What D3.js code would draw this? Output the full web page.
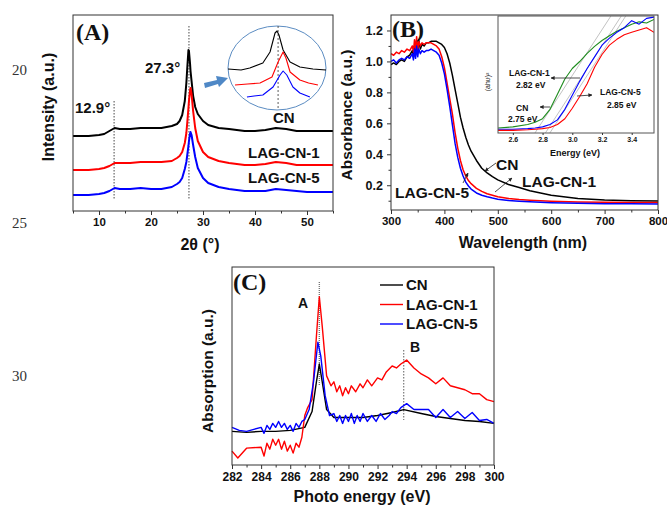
<!DOCTYPE html>
<html>
<head>
<meta charset="utf-8">
<script src="https://cdn.jsdelivr.net/npm/d3@7"></script>
<style>
  body { margin: 0; background: #fff; }
  svg text { font-family: "Liberation Sans", Arial, sans-serif; font-weight: bold; fill: #111; }
  svg text.serif { font-family: "Liberation Serif", "Times New Roman", serif; }
  .frame { fill: none; stroke: #333; stroke-width: 1; }
  .axis path { display: none; }
  .axis line { stroke: #333; }
</style>
</head>
<body>
<svg id="fig" width="667" height="508"></svg>
<script>
// ---- (A) XRD ----
const xrdAngle = [5, 8, 10, 11, 12, 13, 14, 16, 18, 20, 22, 24, 25, 25.5, 26, 26.5, 26.8, 27, 27.2, 27.3, 27.5, 27.6, 27.8, 28.1, 28.5, 29, 30, 31, 33, 35, 38, 40, 42, 44, 46, 48, 50, 52, 55];
const xrdCN   = [75, 75, 76, 77, 80, 83, 82, 82, 83, 83, 83, 85, 87, 90, 96, 110, 128, 145, 161, 160, 148, 140, 130, 115, 104, 97, 90, 86, 83, 82, 80, 80, 81, 83, 82, 80, 80, 80, 80];
const xrdLag1 = [41, 41, 42, 43, 45, 48, 48, 48, 49, 49, 49, 50, 53, 55, 59, 68, 78, 90, 103, 110, 120, 123, 117, 100, 83, 70, 59, 54, 50, 48, 46, 46, 47, 49, 48, 46, 46, 46, 46];
const xrdLag5 = [16, 16, 17, 18, 20, 23, 22, 22, 23, 22, 22, 24, 27, 29, 33, 42, 49, 57, 65, 70, 77, 79, 76, 66, 54, 43, 33, 28, 24, 22, 20, 20, 20, 22, 21, 20, 19, 19, 19];
const xrdTicks = [10, 20, 30, 40, 50];
const xrdMarks = [12.9, 27.3];

// zoomed peak shown in the circle
const zoomAngleCN = [25.0, 25.6, 26.0, 26.6, 26.93, 27.16, 27.25, 27.34, 27.53, 27.85, 28.3, 28.9, 29.5];
const zoomCN      = [41, 40, 42, 47, 58, 77, 79, 75, 60, 48, 43, 41, 40];
const zoomAngle1  = [25.32, 25.9, 26.47, 27.02, 27.3, 27.53, 27.66, 27.85, 28.3, 28.7, 29.13];
const zoomLag1    = [25, 26, 27, 33, 48, 58, 52, 38, 30, 27, 25];
const zoomAngle5  = [25.87, 26.2, 26.6, 27.07, 27.39, 27.53, 27.7, 27.98, 28.3, 28.76];
const zoomLag5    = [13, 14, 15, 23, 35, 39, 35, 23, 17, 13];

// ---- (B) UV-vis ----
const uvWave = [300, 305, 310, 315, 320, 325, 330, 335, 340, 342, 344, 346, 348, 350, 352, 355, 358, 362, 366, 370, 375, 380, 385, 390, 395, 400, 405, 410, 415, 420, 425, 430, 435, 440, 445, 450, 460, 470, 480, 490, 500, 520, 540, 560, 580, 600, 650, 700, 750, 800];
const uvCN   = [0.98, 0.99, 0.98, 1.00, 1.01, 1.00, 1.03, 1.04, 1.07, 1.03, 1.10, 1.04, 1.12, 1.06, 1.14, 1.08, 1.11, 1.10, 1.12, 1.12, 1.13, 1.13, 1.13, 1.12, 1.11, 1.09, 1.05, 0.99, 0.91, 0.82, 0.73, 0.64, 0.57, 0.51, 0.46, 0.42, 0.36, 0.31, 0.28, 0.255, 0.235, 0.205, 0.185, 0.165, 0.15, 0.135, 0.115, 0.105, 0.10, 0.098];
const uvLag1 = [1.05, 1.04, 1.06, 1.05, 1.07, 1.06, 1.08, 1.07, 1.10, 1.06, 1.14, 1.08, 1.16, 1.07, 1.13, 1.10, 1.12, 1.11, 1.12, 1.12, 1.12, 1.11, 1.10, 1.08, 1.03, 0.96, 0.86, 0.76, 0.66, 0.54, 0.44, 0.36, 0.30, 0.26, 0.23, 0.21, 0.18, 0.16, 0.145, 0.135, 0.125, 0.115, 0.108, 0.103, 0.099, 0.096, 0.092, 0.09, 0.088, 0.088];
const uvLag5 = [1.00, 1.01, 0.99, 1.01, 1.02, 1.01, 1.03, 1.02, 1.05, 1.01, 1.08, 1.02, 1.10, 1.03, 1.08, 1.05, 1.07, 1.06, 1.07, 1.07, 1.08, 1.07, 1.06, 1.04, 0.99, 0.92, 0.82, 0.71, 0.59, 0.47, 0.38, 0.31, 0.26, 0.22, 0.195, 0.175, 0.15, 0.135, 0.125, 0.117, 0.11, 0.102, 0.097, 0.093, 0.09, 0.087, 0.083, 0.081, 0.08, 0.079];
const uvXTicks = [300, 400, 500, 600, 700, 800];
const uvYTicks = [0.2, 0.4, 0.6, 0.8, 1.0, 1.2];

// Tauc plot inset
const taucEnergy = [2.5, 2.6, 2.7, 2.75, 2.8, 2.85, 2.9, 2.95, 3.0, 3.05, 3.1, 3.15, 3.2, 3.25, 3.3, 3.35, 3.4, 3.45, 3.5, 3.55];
const taucCN   = [0.04, 0.05, 0.07, 0.09, 0.12, 0.20, 0.33, 0.46, 0.55, 0.61, 0.68, 0.74, 0.79, 0.83, 0.87, 0.90, 0.93, 0.95, 0.94, 0.97];
const taucLag5 = [0.03, 0.03, 0.035, 0.04, 0.05, 0.07, 0.11, 0.20, 0.32, 0.44, 0.55, 0.65, 0.75, 0.81, 0.86, 0.90, 0.96, 0.93, 0.98, 0.99];
const taucLag1 = [0.02, 0.02, 0.025, 0.03, 0.035, 0.045, 0.07, 0.12, 0.21, 0.31, 0.42, 0.56, 0.67, 0.75, 0.80, 0.84, 0.86, 0.88, 0.90, 0.86];
const taucGaps = [2.75, 2.82, 2.85];
const taucTicks = [2.6, 2.8, 3.0, 3.2, 3.4];

// ---- (C) XAS ----
const xasEnergyCN = [282, 283, 284, 285, 286, 287, 287.5, 287.8, 288, 288.2, 288.5, 289, 290, 291, 292, 293, 293.8, 295, 296, 297, 298, 299, 300];
const xasCN       = [0.17, 0.165, 0.17, 0.17, 0.175, 0.19, 0.27, 0.42, 0.51, 0.42, 0.28, 0.24, 0.24, 0.24, 0.25, 0.265, 0.28, 0.26, 0.245, 0.235, 0.225, 0.22, 0.21];
const xasEnergy1  = [282, 282.4, 283, 284, 284.2, 284.4, 284.6, 284.8, 285, 285.2, 285.4, 285.6, 285.8, 286, 286.2, 286.4, 286.6, 286.8, 287, 287.2, 287.5, 287.8, 288, 288.2, 288.5, 288.8, 289, 289.2, 289.4, 289.6, 289.8, 290, 290.2, 290.5, 290.8, 291, 291.3, 291.6, 292, 292.3, 292.6, 293, 293.3, 293.6, 294, 294.5, 295, 295.5, 296, 296.5, 297, 297.5, 298, 298.5, 299, 299.5, 300];
const xasLag1     = [0.07, 0.035, 0.085, 0.09, 0.045, 0.11, 0.08, 0.13, 0.10, 0.13, 0.08, 0.12, 0.07, 0.10, 0.06, 0.11, 0.09, 0.14, 0.25, 0.29, 0.33, 0.65, 0.85, 0.70, 0.45, 0.40, 0.42, 0.37, 0.40, 0.35, 0.39, 0.36, 0.40, 0.37, 0.41, 0.39, 0.43, 0.40, 0.44, 0.43, 0.47, 0.50, 0.49, 0.51, 0.53, 0.49, 0.46, 0.44, 0.41, 0.44, 0.40, 0.39, 0.38, 0.36, 0.36, 0.33, 0.32];
const xasEnergy5  = [282, 282.5, 283, 283.5, 284, 284.2, 284.4, 284.6, 284.8, 285, 285.2, 285.4, 285.6, 285.8, 286, 286.2, 286.4, 286.6, 286.8, 287, 287.3, 287.6, 287.9, 288.1, 288.4, 288.7, 289, 289.2, 289.4, 289.6, 289.8, 290, 290.2, 290.4, 290.6, 290.8, 291, 291.3, 291.6, 291.9, 292.2, 292.5, 292.8, 293, 293.3, 293.6, 294, 294.5, 295.5, 296, 296.5, 297, 297.5, 298, 298.5, 299, 299.5, 300];
const xasLag5     = [0.19, 0.175, 0.17, 0.18, 0.19, 0.16, 0.20, 0.18, 0.21, 0.19, 0.22, 0.19, 0.21, 0.18, 0.20, 0.17, 0.21, 0.19, 0.22, 0.23, 0.28, 0.42, 0.62, 0.55, 0.35, 0.25, 0.26, 0.22, 0.25, 0.21, 0.25, 0.22, 0.26, 0.21, 0.25, 0.22, 0.26, 0.22, 0.25, 0.22, 0.26, 0.23, 0.25, 0.27, 0.26, 0.29, 0.31, 0.28, 0.28, 0.24, 0.28, 0.24, 0.27, 0.235, 0.265, 0.225, 0.23, 0.21];
const xasTicks = [282, 284, 286, 288, 290, 292, 294, 296, 298, 300];
const xasMarks = [288, 293.8];
const seriesNames = ['CN', 'LAG-CN-1', 'LAG-CN-5'];
const seriesColors = ['#000000', '#ff0000', '#0000ff'];

const svg = d3.select('#fig');

// arrow head marker for annotations
svg.append('defs').append('marker')
  .attr('id', 'head')
  .attr('viewBox', '0 0 10 10')
  .attr('refX', 9).attr('refY', 5)
  .attr('markerWidth', 5).attr('markerHeight', 5)
  .attr('orient', 'auto')
  .append('path').attr('d', 'M0,0 L10,5 L0,10 z').attr('fill', '#222');

function zip(xs, ys) {
  return xs.map((x, i) => [x, ys[i]]);
}

function drawLine(g, x, y, pts, color, width) {
  g.append('path')
    .attr('d', d3.line().x(d => x(d[0])).y(d => y(d[1]))(pts))
    .attr('fill', 'none')
    .attr('stroke', color)
    .attr('stroke-width', width)
    .attr('stroke-linejoin', 'round');
}

function styleTicks(g, size, color) {
  g.selectAll('text')
    .style('font-size', size + 'px')
    .style('font-family', '"Liberation Sans", Arial, sans-serif')
    .style('font-weight', 'bold')
    .attr('fill', color || '#111');
}

function bottomAxis(x, yPos, ticks, minorStep, fontSize) {
  const lo = x.domain()[0], hi = x.domain()[1];
  const minor = d3.range(Math.ceil(lo / minorStep) * minorStep, hi + 1e-9, minorStep)
    .filter(v => !ticks.some(t => Math.abs(t - v) < 1e-6));
  svg.append('g').attr('class', 'axis').attr('transform', `translate(0,${yPos})`)
    .call(d3.axisBottom(x).tickValues(minor).tickSize(2.5).tickFormat(''));
  const g = svg.append('g').attr('class', 'axis').attr('transform', `translate(0,${yPos})`)
    .call(d3.axisBottom(x).tickValues(ticks).tickSize(4).tickPadding(3).tickFormat(d3.format('')));
  styleTicks(g, fontSize);
  return g;
}

function frame(x0, y0, x1, y1) {
  svg.append('rect').attr('class', 'frame')
    .attr('x', x0).attr('y', y0).attr('width', x1 - x0).attr('height', y1 - y0);
}

function label(txt, x, y, size, opts = {}) {
  const t = svg.append('text').attr('x', x).attr('y', y)
    .style('font-size', size + 'px')
    .attr('text-anchor', opts.anchor || 'start')
    .text(txt);
  if (opts.serif) t.attr('class', 'serif');
  if (opts.rotate) t.attr('transform', `rotate(-90,${x},${y})`);
  if (opts.normal) t.style('font-weight', 'normal');
  if (opts.fill) t.style('fill', opts.fill);
  return t;
}

function arrow(x1, y1, x2, y2) {
  svg.append('line')
    .attr('x1', x1).attr('y1', y1).attr('x2', x2).attr('y2', y2)
    .attr('stroke', '#222').attr('stroke-width', 0.8)
    .attr('marker-end', 'url(#head)');
}

// manuscript line numbers in the left margin
[['20', 70], ['25', 223], ['30', 376]].forEach(([t, y]) =>
  label(t, 12, y + 5, 15, { serif: true, normal: true, fill: '#333' }));

// ================= Panel A =================
const xA = d3.scaleLinear().domain([5, 55]).range([73, 333]);
const yA = d3.scaleLinear().domain([0, 196]).range([211, 15]);
const gA = svg.append('g');

xrdMarks.forEach((m, i) => {
  gA.append('line')
    .attr('x1', xA(m)).attr('x2', xA(m))
    .attr('y1', i === 0 ? 101 : 26).attr('y2', 200)
    .attr('stroke', '#333').attr('stroke-width', 0.9).attr('stroke-dasharray', '1.5,1.5');
});

[xrdCN, xrdLag1, xrdLag5].forEach((s, i) =>
  drawLine(gA, xA, yA, zip(xrdAngle, s), seriesColors[i], 2));

frame(73, 15, 333, 211);
bottomAxis(xA, 211, xrdTicks, 5, 11.5);

label('Intensity (a.u.)', 54, 107, 16, { rotate: true, anchor: 'middle' });
label('2θ (°)', 200, 250, 16, { anchor: 'middle' });
label('(A)', 76, 40, 24, { serif: true });
label('27.3°', 145, 73, 15);
label('12.9°', 75, 113, 15);
label('CN', 273, 123, 15);
label('LAG-CN-1', 248, 158, 15);
label('LAG-CN-5', 248, 183, 15);

// magnified peak in the circle
const xZ = d3.scaleLinear().domain([25, 29.5]).range([228, 326]);
const yZ = d3.scaleLinear().domain([0, 100]).range([110, 10]);
const gZ = svg.append('g');
gZ.append('ellipse').attr('cx', 277).attr('cy', 68).attr('rx', 49).attr('ry', 42)
  .attr('fill', 'none').attr('stroke', '#5b8cc2').attr('stroke-width', 1);
gZ.append('line').attr('x1', xZ(27.3)).attr('x2', xZ(27.3)).attr('y1', 26).attr('y2', 110)
  .attr('stroke', '#333').attr('stroke-width', 0.8).attr('stroke-dasharray', '2,2');
drawLine(gZ, xZ, yZ, zip(zoomAngleCN, zoomCN), '#000', 1.1);
drawLine(gZ, xZ, yZ, zip(zoomAngle1, zoomLag1), '#ff0000', 1.1);
drawLine(gZ, xZ, yZ, zip(zoomAngle5, zoomLag5), '#0000ff', 1.1);
gZ.append('path')
  .attr('d', 'M204,83 L217,80 L216,76 L228,78 L219,87 L218,84 L205,88 Z')
  .attr('fill', '#4f88c6');

// ================= Panel B =================
const xB = d3.scaleLinear().domain([300, 800]).range([391, 658]);
const yB = d3.scaleLinear().domain([0.04, 1.30]).range([210, 15]);
const gB = svg.append('g');
[uvCN, uvLag1, uvLag5].forEach((s, i) =>
  drawLine(gB, xB, yB, zip(uvWave, s), seriesColors[i], 1.5));
frame(391, 15, 658, 210);
bottomAxis(xB, 210, uvXTicks, 50, 11.5);

const yMinorB = d3.range(0.1, 1.3, 0.2);
svg.append('g').attr('class', 'axis').attr('transform', 'translate(391,0)')
  .call(d3.axisLeft(yB).tickValues(yMinorB).tickSize(2.5).tickFormat(''));
styleTicks(svg.append('g').attr('class', 'axis').attr('transform', 'translate(391,0)')
  .call(d3.axisLeft(yB).tickValues(uvYTicks).tickSize(4).tickPadding(4).tickFormat(d3.format('.1f'))), 12.5);

label('Absorbance (a.u.)', 352, 115, 15.5, { rotate: true, anchor: 'middle' });
label('Wavelength (nm)', 523, 248, 16, { anchor: 'middle' });
label('(B)', 392, 37, 24, { serif: true });
label('CN', 496, 170, 15.5);
label('LAG-CN-1', 522, 187, 15.5);
label('LAG-CN-5', 395, 198, 15.5);
arrow(496, 163, 485, 171);
arrow(495, 192, 512, 178);
arrow(463, 183, 468, 173);

// Tauc inset
const xI = d3.scaleLinear().domain([2.5, 3.55]).range([498, 654]);
const yI = d3.scaleLinear().domain([0, 1]).range([132.7, 16]);
svg.append('rect').attr('x', 498).attr('y', 16).attr('width', 156).attr('height', 117).attr('fill', '#fff');
svg.append('clipPath').attr('id', 'clipI')
  .append('rect').attr('x', 498).attr('y', 16).attr('width', 156).attr('height', 117);
const gI = svg.append('g').attr('clip-path', 'url(#clipI)');
taucGaps.forEach(e => {
  gI.append('line')
    .attr('x1', xI(e - 0.01)).attr('y1', yI(-0.02))
    .attr('x2', xI(e + 0.52)).attr('y2', yI(1.02))
    .attr('stroke', '#999').attr('stroke-width', 0.6);
});
drawLine(gI, xI, yI, zip(taucEnergy, taucCN), '#1e8c1e', 1.1);
drawLine(gI, xI, yI, zip(taucEnergy, taucLag5), '#0000ff', 1.1);
drawLine(gI, xI, yI, zip(taucEnergy, taucLag1), '#ff0000', 1.1);
svg.append('rect').attr('class', 'frame').attr('x', 498).attr('y', 16).attr('width', 156).attr('height', 117).style('stroke', '#555');
styleTicks(svg.append('g').attr('class', 'axis').attr('transform', 'translate(0,133)')
  .call(d3.axisBottom(xI).tickValues(taucTicks).tickSize(2).tickPadding(2).tickFormat(d3.format('.1f'))), 7, '#444');
label('Energy (eV)', 575, 156, 9, { anchor: 'middle' });
label('(ahυ)²', 490, 82, 7, { rotate: true, anchor: 'middle', normal: true });
label('LAG-CN-1', 509, 76, 8.5);
label('2.82 eV', 516, 88, 8.5);
label('CN', 516, 111, 8.5);
label('2.75 eV', 508, 122, 8.5);
label('LAG-CN-5', 600, 95, 8.5);
label('2.85 eV', 607, 108, 8.5);
arrow(580, 78, 551, 78);
arrow(550, 107, 540, 107);
arrow(577, 96, 592, 95);

// ================= Panel C =================
const xC = d3.scaleLinear().domain([282, 300]).range([232, 494]);
const yC = d3.scaleLinear().domain([0, 1]).range([465, 267]);
const gC = svg.append('g');
gC.append('line').attr('x1', xC(xasMarks[0])).attr('x2', xC(xasMarks[0])).attr('y1', 282).attr('y2', 385)
  .attr('stroke', '#777').attr('stroke-width', 1.4).attr('stroke-dasharray', '1,1');
gC.append('line').attr('x1', xC(xasMarks[1])).attr('x2', xC(xasMarks[1])).attr('y1', 350).attr('y2', 420)
  .attr('stroke', '#333').attr('stroke-width', 0.8).attr('stroke-dasharray', '1.5,1.5');
drawLine(gC, xC, yC, zip(xasEnergyCN, xasCN), seriesColors[0], 1.4);
drawLine(gC, xC, yC, zip(xasEnergy1, xasLag1), seriesColors[1], 1.4);
drawLine(gC, xC, yC, zip(xasEnergy5, xasLag5), seriesColors[2], 1.4);
frame(232, 267, 494, 465);
bottomAxis(xC, 465, xasTicks, 1, 12);

label('Absorption (a.u.)', 213, 371, 15.5, { rotate: true, anchor: 'middle' });
label('Photo energy (eV)', 362, 502, 16, { anchor: 'middle' });
label('(C)', 233, 290, 24, { serif: true });
label('A', 298, 308, 14);
label('B', 410, 352, 14);

const legC = svg.append('g');
seriesNames.forEach((n, i) => {
  const yy = 285 + i * 19.5;
  legC.append('line').attr('x1', 380).attr('x2', 403).attr('y1', yy).attr('y2', yy)
    .attr('stroke', seriesColors[i]).attr('stroke-width', 1.4);
  legC.append('text').attr('x', 406).attr('y', yy + 5).style('font-size', '15px').text(n);
});
</script>
</body>
</html>
